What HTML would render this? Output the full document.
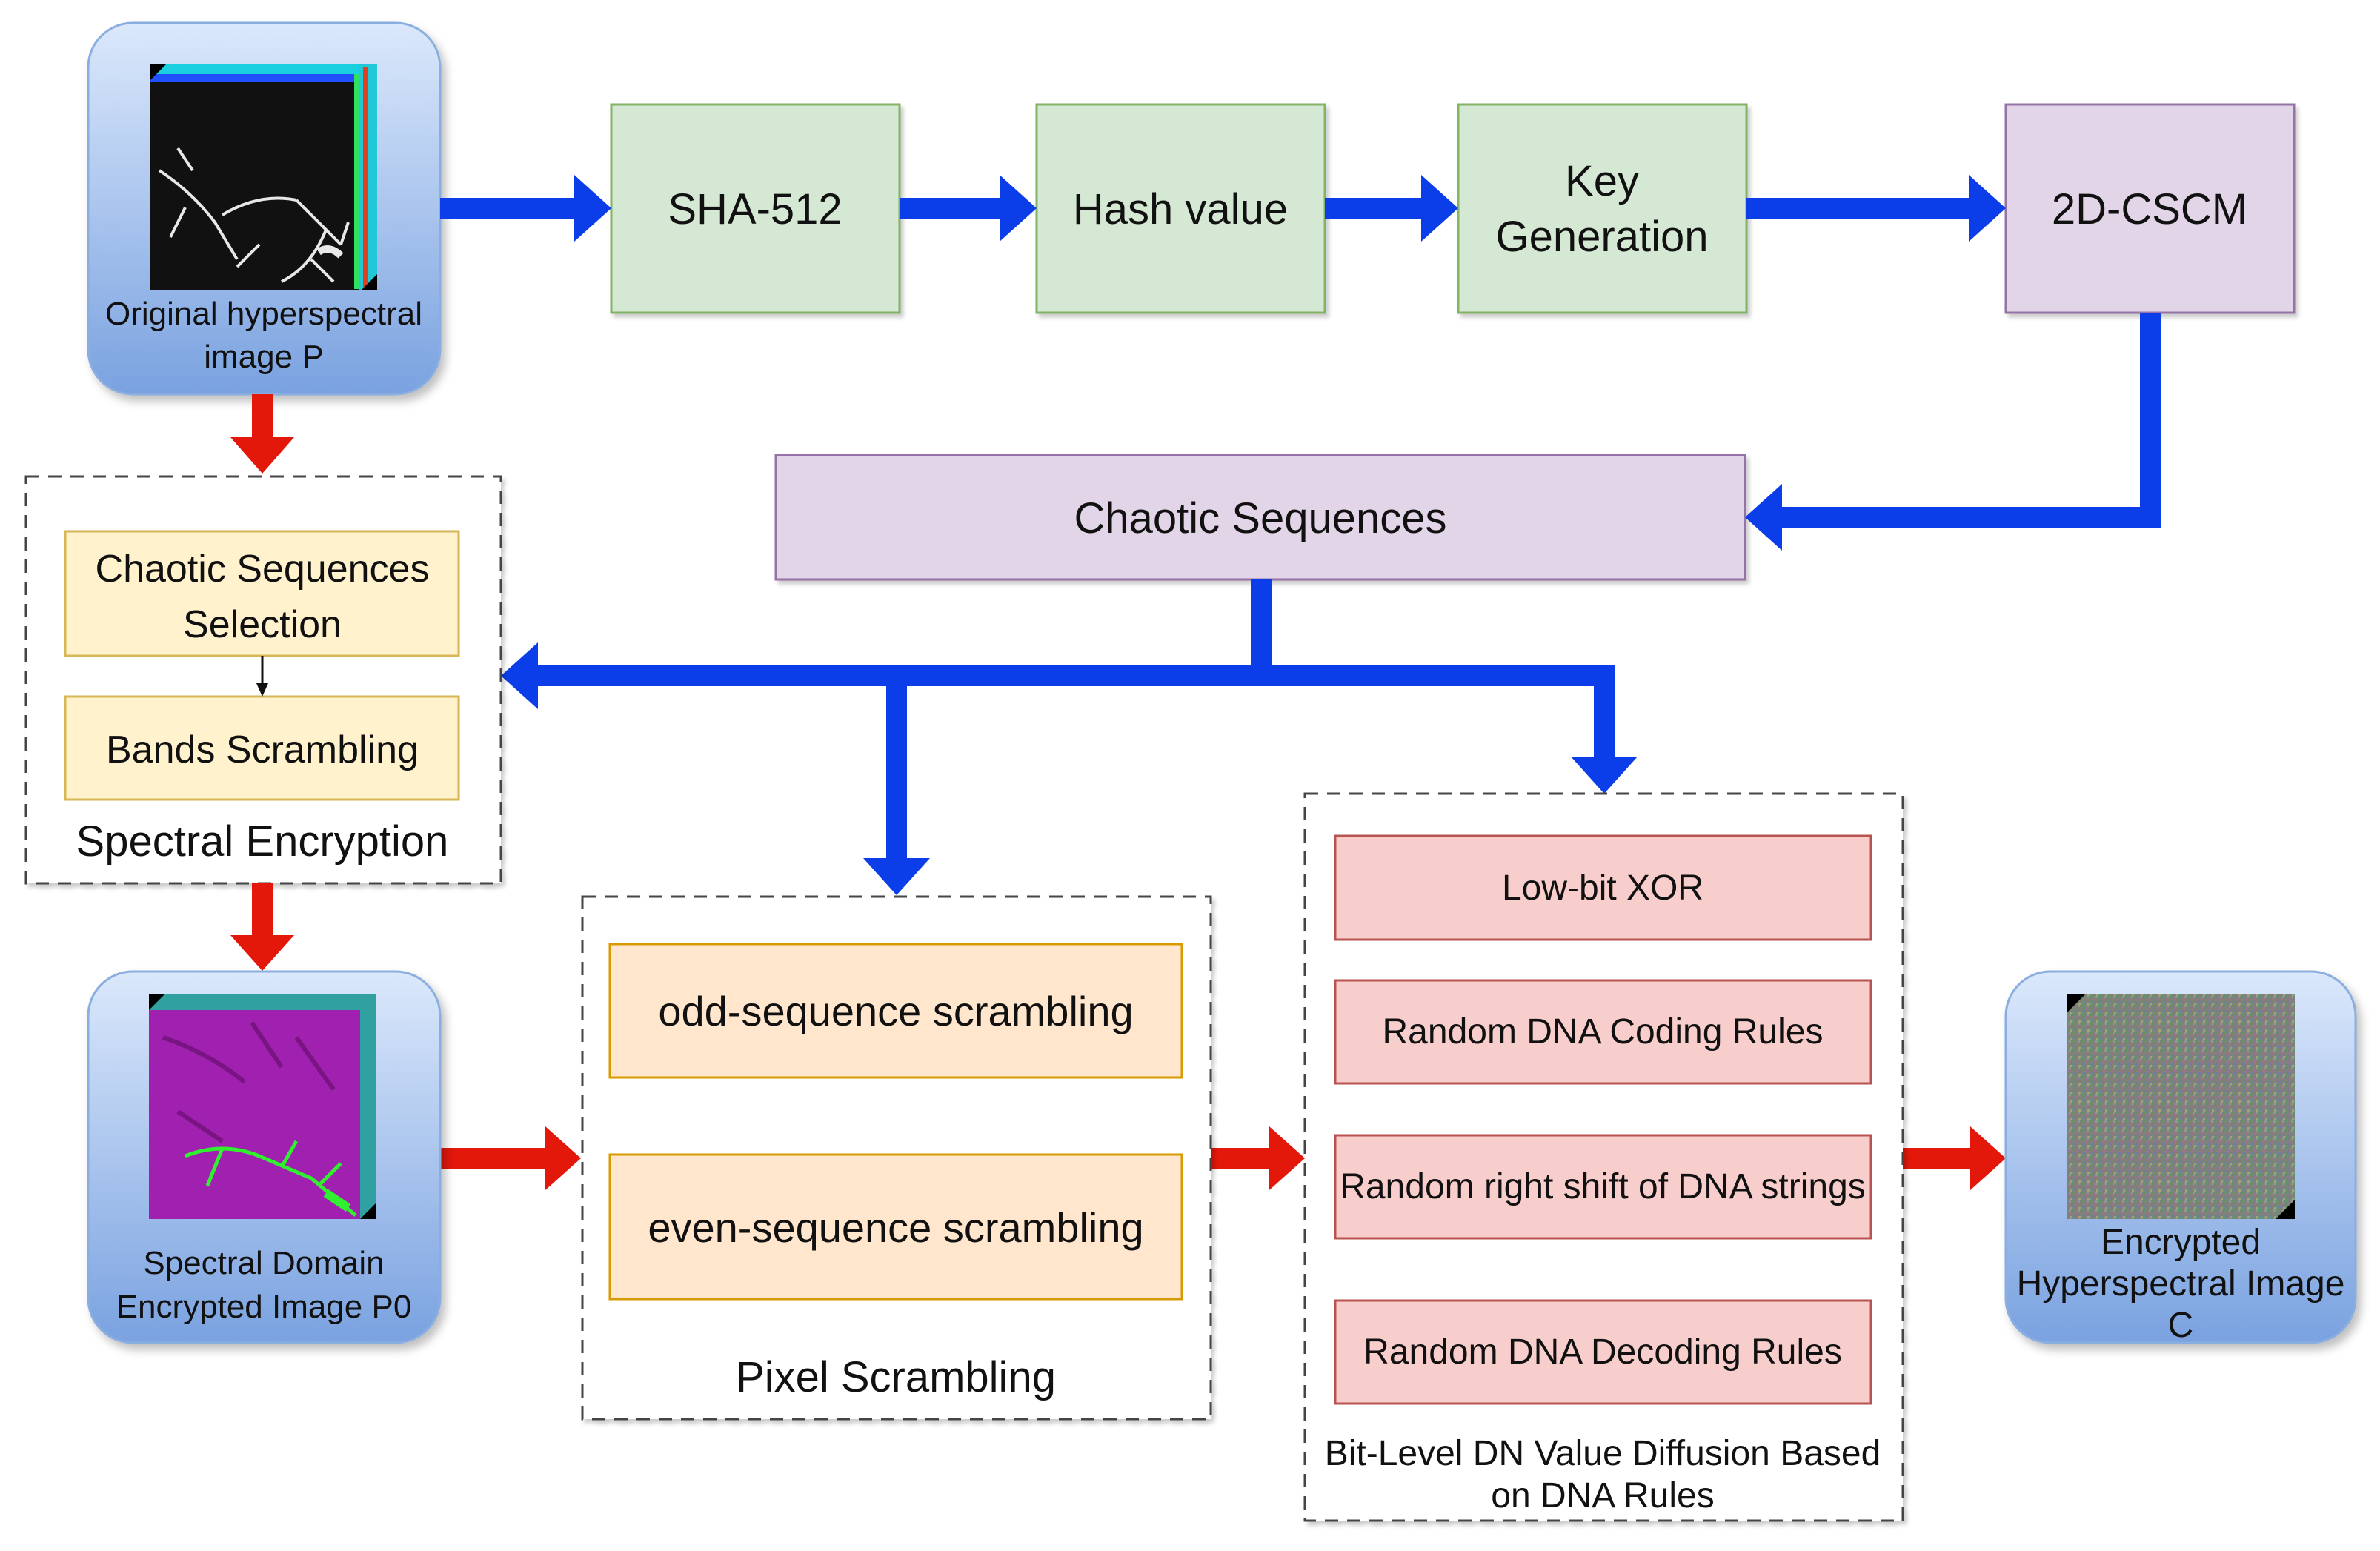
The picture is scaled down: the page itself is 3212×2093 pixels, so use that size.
<!DOCTYPE html>
<html><head><meta charset="utf-8"><style>
html,body{margin:0;padding:0;background:#fff;}
svg{display:block;}
text{font-family:"Liberation Sans",Arial,sans-serif;fill:#111;}
.n{font-family:"Liberation Sans Narrow","Liberation Sans",sans-serif;}
</style></head><body>
<svg width="3212" height="2093" viewBox="0 0 3212 2093" xmlns="http://www.w3.org/2000/svg">
<defs>
<linearGradient id="bg" x1="0" y1="0" x2="0" y2="1">
<stop offset="0" stop-color="#dbe8fb"/><stop offset="1" stop-color="#7aa2e0"/></linearGradient>
<filter id="sh" x="-10%" y="-10%" width="130%" height="130%"><feDropShadow dx="6" dy="8" stdDeviation="6" flood-color="#000" flood-opacity="0.25"/></filter>
<filter id="sh2" x="-5%" y="-5%" width="115%" height="115%"><feDropShadow dx="4" dy="5" stdDeviation="3" flood-color="#000" flood-opacity="0.2"/></filter>
<linearGradient id="cg" x1="0" y1="0" x2="1" y2="1">
<stop offset="0" stop-color="#6f8a6a"/><stop offset="0.5" stop-color="#857a80"/><stop offset="1" stop-color="#6f8a78"/></linearGradient>
<pattern id="noise" width="12" height="12" patternUnits="userSpaceOnUse">
<rect width="12" height="12" fill="#7f8378"/><rect x="0" y="0" width="3" height="3" fill="#4aa060"/><rect x="6" y="3" width="3" height="3" fill="#b06a9a"/><rect x="3" y="7" width="3" height="3" fill="#6a7ac0"/><rect x="9" y="9" width="3" height="3" fill="#c0b070"/><rect x="8" y="0" width="3" height="3" fill="#9aa09a"/><rect x="0" y="9" width="3" height="3" fill="#5a9a8a"/></pattern>
</defs>

<!-- Original hyperspectral image box -->
<rect x="119" y="31" width="475" height="501" rx="60" fill="url(#bg)" stroke="#8aaee0" stroke-width="3" filter="url(#sh)"/>
<rect x="203" y="86" width="306" height="306" fill="#111"/>
<rect x="203" y="86" width="306" height="14" fill="#1ad0e0"/>
<rect x="203" y="100" width="290" height="10" fill="#2050ff"/>
<rect x="485" y="86" width="24" height="306" fill="#20c8d8"/>
<rect x="490" y="90" width="6" height="300" fill="#e04020"/>
<rect x="478" y="100" width="6" height="290" fill="#30e060"/>
<polygon points="203,86 225,86 203,108" fill="#000"/>
<polygon points="509,392 487,392 509,370" fill="#000"/>
<g stroke="#e8e8e8" stroke-width="4" fill="none">
<path d="M215 230 Q260 260 290 300 M290 300 L320 350 M250 280 L230 320 M300 290 Q350 260 400 270 M400 270 L460 330 M440 310 Q420 360 380 380 M460 330 L470 300 M350 330 L320 360 M420 350 L450 380 M260 230 L240 200"/>
<path d="M430 340 Q445 330 460 345" stroke-width="10"/>
</g>
<text x="356" y="438" font-size="44" text-anchor="middle">Original hyperspectral</text>
<text x="356" y="496" font-size="44" text-anchor="middle">image P</text>

<!-- Top process boxes -->
<g filter="url(#sh2)">
<rect x="825" y="141" width="389" height="281" fill="#d5e8d4" stroke="#82b366" stroke-width="3"/>
<rect x="1399" y="141" width="389" height="281" fill="#d5e8d4" stroke="#82b366" stroke-width="3"/>
<rect x="1968" y="141" width="389" height="281" fill="#d5e8d4" stroke="#82b366" stroke-width="3"/>
<rect x="2707" y="141" width="389" height="281" fill="#e1d5e7" stroke="#9673a6" stroke-width="3"/>
<rect x="1047" y="614" width="1308" height="168" fill="#e1d5e7" stroke="#9673a6" stroke-width="3"/>
</g>
<text x="1019" y="302" font-size="58" text-anchor="middle">SHA-512</text>
<text x="1593" y="302" font-size="58" text-anchor="middle">Hash value</text>
<text x="2162" y="264" font-size="58" text-anchor="middle">Key</text>
<text x="2162" y="339" font-size="58" text-anchor="middle">Generation</text>
<text x="2901" y="302" font-size="58" text-anchor="middle">2D-CSCM</text>
<text x="1701" y="719" font-size="58" text-anchor="middle">Chaotic Sequences</text>

<!-- Blue arrows -->
<g fill="#0b3ee8">
<polygon points="594,267 775,267 775,236 825,281 775,326 775,295 594,295"/>
<polygon points="1214,267 1349,267 1349,236 1399,281 1349,326 1349,295 1214,295"/>
<polygon points="1788,267 1918,267 1918,236 1968,281 1918,326 1918,295 1788,295"/>
<polygon points="2357,267 2657,267 2657,236 2707,281 2657,326 2657,295 2357,295"/>
<polygon points="2888,422 2916,422 2916,712 2405,712 2405,743 2355,698 2405,653 2405,684 2888,684"/>
<rect x="1688" y="782" width="28" height="140"/>
<polygon points="726,898 2179,898 2179,926 726,926 726,957 676,912 726,867"/>
<polygon points="1196,920 1224,920 1224,1158 1255,1158 1210,1208 1165,1158 1196,1158"/>
<polygon points="2151,912 2179,912 2179,1021 2210,1021 2165,1071 2120,1021 2151,1021"/>
</g>

<!-- Spectral encryption dashed box -->
<rect x="35" y="643" width="641" height="549" fill="#fff" stroke="#444" stroke-width="3" stroke-dasharray="18,12" filter="url(#sh2)"/>
<rect x="88" y="717" width="531" height="168" fill="#fff2cc" stroke="#d6b656" stroke-width="3"/>
<rect x="88" y="940" width="531" height="139" fill="#fff2cc" stroke="#d6b656" stroke-width="3"/>
<text x="354" y="785" font-size="52" text-anchor="middle">Chaotic Sequences</text>
<text x="354" y="860" font-size="52" text-anchor="middle">Selection</text>
<text x="354" y="1029" font-size="52" text-anchor="middle">Bands Scrambling</text>
<text x="354" y="1155" font-size="58" text-anchor="middle">Spectral Encryption</text>

<!-- Red arrows -->
<g fill="#e3170a">
<polygon points="340,532 368,532 368,590 397,590 354,639 311,590 340,590"/>
<polygon points="340,1192 368,1192 368,1262 397,1262 354,1310 311,1262 340,1262"/>
<polygon points="594,1549 736,1549 736,1520 784,1563 736,1606 736,1577 594,1577"/>
<polygon points="1634,1549 1713,1549 1713,1520 1761,1563 1713,1606 1713,1577 1634,1577"/>
<polygon points="2568,1549 2659,1549 2659,1520 2707,1563 2659,1606 2659,1577 2568,1577"/>
</g>

<!-- small black arrows -->
<g stroke="#111" stroke-width="3" fill="none">
<line x1="354" y1="885" x2="354" y2="936"/>
<line x1="1209" y1="1454" x2="1209" y2="1553"/>
<line x1="2163" y1="1268" x2="2163" y2="1318"/>
<line x1="2163" y1="1462" x2="2163" y2="1527"/>
<line x1="2163" y1="1671" x2="2163" y2="1750"/>
</g>
<g fill="#111">
<polygon points="346,922 362,922 354,940"/>
<polygon points="1201,1540 1217,1540 1209,1558"/>
<polygon points="2155,1305 2171,1305 2163,1323"/>
<polygon points="2155,1514 2171,1514 2163,1532"/>
<polygon points="2155,1737 2171,1737 2163,1755"/>
</g>

<!-- Spectral Domain Encrypted Image P0 -->
<rect x="119" y="1311" width="475" height="501" rx="60" fill="url(#bg)" stroke="#8aaee0" stroke-width="3" filter="url(#sh)"/>
<rect x="201" y="1341" width="307" height="304" fill="#a020b0"/>
<rect x="201" y="1341" width="307" height="22" fill="#30a0a0"/>
<rect x="486" y="1341" width="22" height="304" fill="#30a0a0"/>
<polygon points="201,1341 223,1341 201,1363" fill="#000"/>
<polygon points="508,1645 486,1645 508,1623" fill="#000"/>
<g stroke="#6a1070" stroke-width="6" fill="none" opacity="0.7">
<path d="M220 1400 Q280 1420 330 1460 M340 1380 L380 1440 M240 1500 L300 1540 M400 1400 L450 1470"/>
</g>
<g stroke="#30f030" stroke-width="5" fill="none">
<path d="M250 1560 Q300 1540 350 1560 L420 1590 L480 1640 M380 1575 L400 1540 M430 1600 L460 1570 M300 1550 L280 1600"/>
<path d="M440 1610 L470 1630" stroke-width="12"/>
</g>
<text x="356" y="1719" font-size="44" text-anchor="middle">Spectral Domain</text>
<text x="356" y="1778" font-size="44" text-anchor="middle">Encrypted Image P0</text>

<!-- Pixel scrambling -->
<rect x="786" y="1210" width="848" height="705" fill="#fff" stroke="#444" stroke-width="3" stroke-dasharray="18,12" filter="url(#sh2)"/>
<rect x="823" y="1274" width="772" height="180" fill="#ffe6cc" stroke="#d79b00" stroke-width="3"/>
<rect x="823" y="1558" width="772" height="195" fill="#ffe6cc" stroke="#d79b00" stroke-width="3"/>
<text x="1209" y="1384" font-size="56" text-anchor="middle">odd-sequence scrambling</text>
<text x="1209" y="1676" font-size="56" text-anchor="middle">even-sequence scrambling</text>
<text x="1209" y="1878" font-size="58" text-anchor="middle">Pixel Scrambling</text>

<!-- DNA diffusion -->
<rect x="1761" y="1071" width="807" height="981" fill="#fff" stroke="#444" stroke-width="3" stroke-dasharray="18,12" filter="url(#sh2)"/>
<g fill="#f8cecc" stroke="#b85450" stroke-width="3">
<rect x="1802" y="1128" width="723" height="140"/>
<rect x="1802" y="1323" width="723" height="139"/>
<rect x="1802" y="1532" width="723" height="139"/>
<rect x="1802" y="1755" width="723" height="139"/>
</g>
<g class="n" font-size="48" text-anchor="middle">
<text class="n" x="2163" y="1214" font-size="48" text-anchor="middle">Low-bit XOR</text>
<text class="n" x="2163" y="1408" font-size="48" text-anchor="middle">Random DNA Coding Rules</text>
<text class="n" x="2163" y="1617" font-size="48" text-anchor="middle">Random right shift of DNA strings</text>
<text class="n" x="2163" y="1840" font-size="48" text-anchor="middle">Random DNA Decoding Rules</text>
<text class="n" x="2163" y="1977" font-size="48" text-anchor="middle">Bit-Level DN Value Diffusion Based</text>
<text class="n" x="2163" y="2034" font-size="48" text-anchor="middle">on DNA Rules</text>
</g>

<!-- Encrypted image C -->
<rect x="2707" y="1311" width="472" height="501" rx="60" fill="url(#bg)" stroke="#8aaee0" stroke-width="3" filter="url(#sh)"/>
<rect x="2789" y="1341" width="308" height="304" fill="url(#noise)"/>
<rect x="2789" y="1341" width="308" height="304" fill="url(#cg)" opacity="0.35"/>
<polygon points="2789,1341 2815,1341 2789,1367" fill="#000"/>
<polygon points="3097,1645 3071,1645 3097,1619" fill="#000"/>
<text class="n" x="2943" y="1692" font-size="48" text-anchor="middle">Encrypted</text>
<text class="n" x="2943" y="1748" font-size="48" text-anchor="middle">Hyperspectral Image</text>
<text class="n" x="2943" y="1804" font-size="48" text-anchor="middle">C</text>
</svg>
</body></html>
